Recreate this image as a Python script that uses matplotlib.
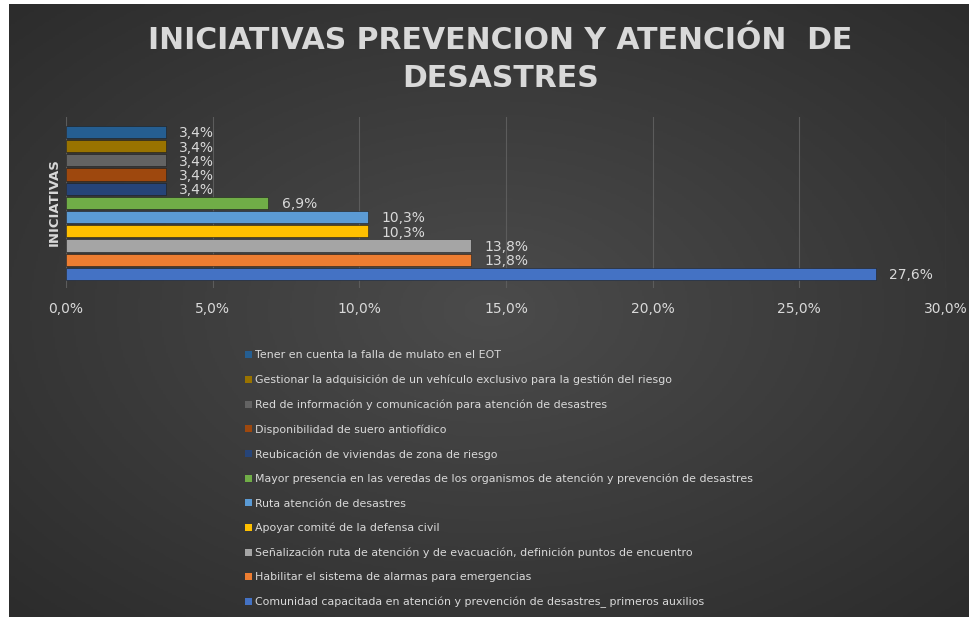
import numpy as np
import matplotlib
matplotlib.use("Agg")
import matplotlib.pyplot as plt
from matplotlib.patches import Patch
from matplotlib.ticker import FuncFormatter

# bars listed bottom to top
iniciativas = [
    "Comunidad capacitada en atención y prevención de desastres_ primeros auxilios",
    "Habilitar el sistema de alarmas para emergencias",
    "Señalización ruta de atención y de evacuación, definición puntos de encuentro",
    "Apoyar comité de la defensa civil",
    "Ruta atención de desastres",
    "Mayor presencia en las veredas de los organismos de atención y prevención de desastres",
    "Reubicación de viviendas de zona de riesgo",
    "Disponibilidad de suero antiofídico",
    "Red de información y comunicación para atención de desastres",
    "Gestionar la adquisición de un vehículo exclusivo para la gestión del riesgo",
    "Tener en cuenta la falla de mulato en el EOT",
]
porcentajes = [27.6, 13.8, 13.8, 10.3, 10.3, 6.9, 3.4, 3.4, 3.4, 3.4, 3.4]
colores = ["#4472C4", "#ED7D31", "#A5A5A5", "#FFC000", "#5B9BD5", "#70AD47",
           "#264478", "#9E480E", "#636363", "#997300", "#255E91"]
xticks = [0, 5, 10, 15, 20, 25, 30]

txt = "#d9d9d9"
plt.rcParams["font.family"] = ["DejaVu Sans"]

fig = plt.figure(figsize=(9.7, 6.17), dpi=100, facecolor="white")

# dark radial background
bg = fig.add_axes([9 / 970, 0, 1 - 9 / 970, 1 - 4 / 617])
yy, xx = np.mgrid[-1:1:300j, -1:1:460j]
rr = np.sqrt(xx**2 + yy**2)
cmap_bg = matplotlib.colors.LinearSegmentedColormap.from_list("bg", ["#4b4b4b", "#2c2c2c"])
bg.imshow(np.clip(rr, 0, 1.5), cmap=cmap_bg, aspect="auto", extent=[0, 1, 0, 1])
bg.axis("off")

ax = fig.add_axes([66 / 970, 329 / 617, 880 / 970, 171 / 617])
ax.set_facecolor("none")
y = np.arange(len(porcentajes))
ax.barh(y, porcentajes, height=0.86, color=colores, edgecolor="#1e1e1e",
        linewidth=0.4, zorder=3)
for yi, v in zip(y, porcentajes):
    ax.text(v + 0.45, yi - 0.1, f"{v:.1f}%".replace(".", ","), color=txt,
            fontsize=10, va="center", ha="left", zorder=4)

ax.set_xlim(0, 30)
ax.set_ylim(-1.0, 11.05)
ax.set_xticks(xticks)
ax.xaxis.set_major_formatter(FuncFormatter(lambda v, p: f"{v:.1f}%".replace(".", ",")))
ax.tick_params(axis="x", colors=txt, labelsize=10, length=0, pad=10)
ax.set_yticks([])
ax.grid(axis="x", color="#5c5c5c", linewidth=0.8, zorder=0)
for s in ax.spines.values():
    s.set_visible(False)
ax.set_ylabel("INICIATIVAS", color=txt, fontsize=9.5, fontweight="bold", labelpad=4)

fig.text(0.516, 1 - 49 / 617, "INICIATIVAS PREVENCION Y ATENCIÓN  DE", ha="center",
         va="baseline", color=txt, fontsize=21.5, fontweight="bold")
fig.text(0.516, 1 - 87 / 617, "DESASTRES", ha="center", va="baseline", color=txt,
         fontsize=21.5, fontweight="bold")

handles = [Patch(facecolor=c, edgecolor="none") for c in colores][::-1]
labels = iniciativas[::-1]
fig.legend(handles, labels, loc="upper left", bbox_to_anchor=(240 / 970, 1 - 345 / 617),
           frameon=False, fontsize=7.9, labelcolor=txt, labelspacing=1.3,
           handlelength=0.6, handleheight=0.6, handletextpad=0.3, borderpad=0)

fig.savefig("out.png", dpi=100, facecolor=fig.get_facecolor())
